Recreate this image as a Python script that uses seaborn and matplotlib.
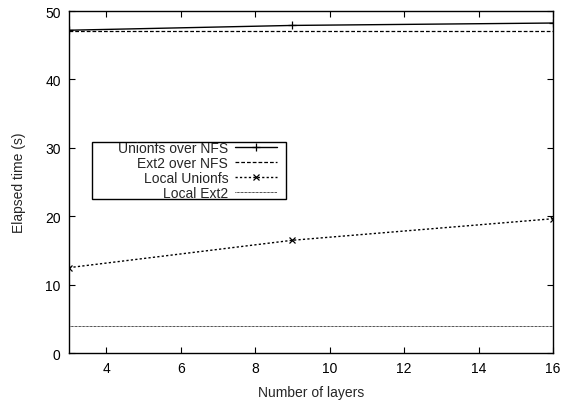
import matplotlib
matplotlib.use("Agg")
import matplotlib.pyplot as plt
import seaborn as sns
import pandas as pd
from matplotlib.offsetbox import DrawingArea

layers = [3, 9, 16]
unionfs_nfs = [47.2, 47.9, 48.25]
ext2_nfs = [47.1, 47.1, 47.1]
local_unionfs = [12.5, 16.5, 19.65]
local_ext2 = [4.0, 4.0, 4.0]

sns.set_theme(style="ticks")
plt.rcParams['font.family'] = ['Liberation Sans', 'DejaVu Sans']
plt.rcParams['font.size'] = 10

fig = plt.figure(figsize=(5.66, 4.02), dpi=100)
ax = fig.add_axes([0.122, 0.119, 0.855, 0.851])

series = [
    ("Unionfs over NFS", unionfs_nfs, dict(linestyle='-', marker='+', markersize=6, linewidth=1.0)),
    ("Ext2 over NFS", ext2_nfs, dict(linestyle=(0, (3, 1.6)), marker=None, linewidth=0.9)),
    ("Local Unionfs", local_unionfs, dict(linestyle=(0, (1.6, 1.6)), marker='x', markersize=4.5, linewidth=1.0)),
    ("Local Ext2", local_ext2, dict(linestyle=(0, (0.7, 0.7)), marker=None, linewidth=0.7)),
]
for name, vals, kw in series:
    df = pd.DataFrame({"x": layers, "y": vals})
    sns.lineplot(data=df, x="x", y="y", ax=ax, color='black', label=name,
                 markeredgewidth=0.9, markeredgecolor='black', **kw)

ax.set_xlim(3, 16)
ax.set_ylim(0, 50)
ax.set_xticks([4, 6, 8, 10, 12, 14, 16])
ax.set_yticks([0, 10, 20, 30, 40, 50])
ax.set_xlabel("Number of layers", fontsize=10, labelpad=7)
ax.set_ylabel("Elapsed time (s)", fontsize=10, labelpad=14)
ax.tick_params(direction='in', top=True, right=True, length=4, width=0.8,
               labelsize=10, colors='black', pad=6)
for s in ax.spines.values():
    s.set_visible(True)
    s.set_color('black')
    s.set_linewidth(1.0)

leg = ax.legend(loc='upper left', bbox_to_anchor=(0.048, 0.616), markerfirst=False,
                frameon=True, fancybox=False, edgecolor='black', framealpha=1,
                fontsize=10, handlelength=3.0, borderaxespad=0, borderpad=-0.08,
                labelspacing=0.07, handletextpad=0.5)
leg.get_frame().set_linewidth(1.0)
for t in leg.get_texts():
    t.set_ha('right')
col = leg._legend_handle_box.get_children()[0]
col.align = "right"
first_row = col.get_children()[0]
first_row._children.insert(0, DrawingArea(14.4, 1))
for row in col.get_children():
    row._children.append(DrawingArea(2.2, 1))

fig.savefig("out.png", dpi=100)
